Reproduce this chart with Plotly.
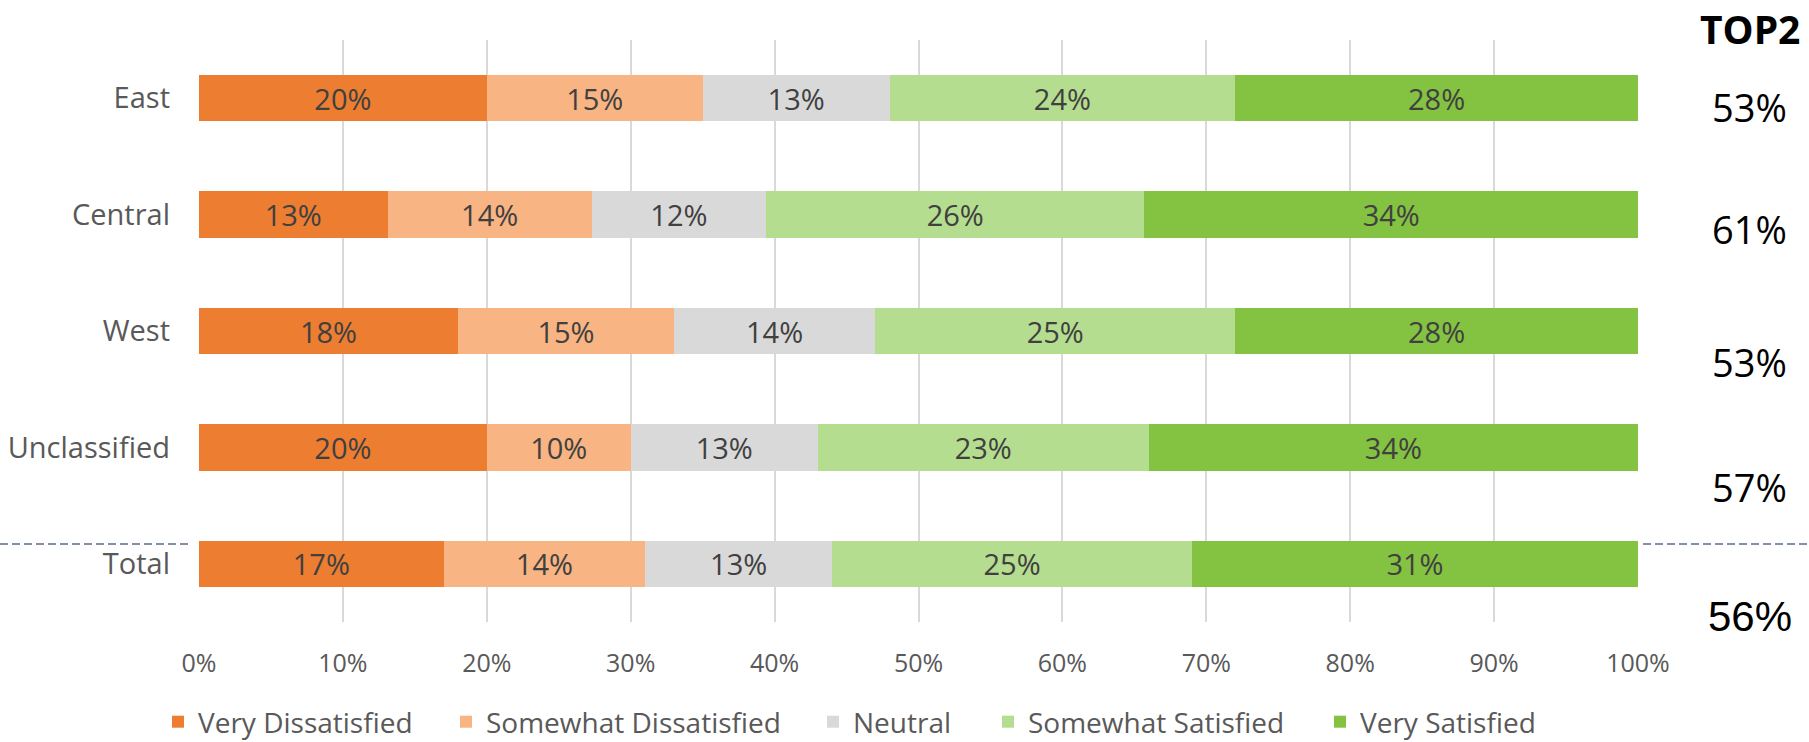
import plotly.graph_objects as go

# Regions (top to bottom) and the five satisfaction levels, as shares of respondents
regions = ["East", "Central", "West", "Unclassified", "Total"]
levels = ["Very Dissatisfied", "Somewhat Dissatisfied", "Neutral",
          "Somewhat Satisfied", "Very Satisfied"]

very_dissatisfied = [0.20, 0.131, 0.18, 0.20, 0.17]
somewhat_dissatisfied = [0.15, 0.142, 0.15, 0.10, 0.14]
neutral = [0.13, 0.121, 0.14, 0.13, 0.13]
somewhat_satisfied = [0.24, 0.263, 0.25, 0.23, 0.25]
very_satisfied = [0.28, 0.343, 0.28, 0.34, 0.31]

# Top-two-box share shown to the right of each bar
top2 = ["53%", "61%", "53%", "57%", "56%"]
top2_title = "TOP2"

series = [very_dissatisfied, somewhat_dissatisfied, neutral,
          somewhat_satisfied, very_satisfied]
colors = ["#ED7D31", "#F8B482", "#D9D9D9", "#B5DD8F", "#84C241"]

FONT = "Open Sans, Noto Sans, sans-serif"

W, H = 1809, 742
L, R, T, B = 199, 171, 40, 120
plot_w = W - L - R
plot_h = H - T - B


def px_to_paper_x(px):
    return (px - L) / plot_w


def px_to_paper_y(py):
    return (H - B - py) / plot_h


# One legend per series so each key sits at its own spot along the bottom
legend_ids = ["legend", "legend2", "legend3", "legend4", "legend5"]
legend_px = [158, 446, 813, 988, 1320]

fig = go.Figure()
for name, vals, col, lid in zip(levels, series, colors, legend_ids):
    fig.add_trace(go.Bar(
        y=regions, x=vals, name=name, orientation="h",
        marker=dict(color=col, line=dict(width=0)),
        texttemplate="%{x:.0%}", textposition="inside",
        insidetextanchor="middle", constraintext="none",
        textfont=dict(family=FONT, size=29, color="#404040"),
        hoverinfo="skip", legend=lid,
    ))

legend_layout = {}
for lid, lx in zip(legend_ids, legend_px):
    legend_layout[lid] = dict(
        orientation="h", x=px_to_paper_x(lx), xanchor="left",
        y=px_to_paper_y(722), yanchor="middle",
        font=dict(family=FONT, size=28, color="#595959"),
        itemwidth=30, bgcolor="rgba(0,0,0,0)",
    )

fig.update_layout(
    width=W, height=H,
    margin=dict(l=L, r=R, t=T, b=B, pad=0, autoexpand=False),
    barmode="stack", bargap=0.6,
    paper_bgcolor="white", plot_bgcolor="white",
    font=dict(family=FONT, color="#595959"),
    showlegend=True,
    xaxis=dict(range=[0, 1], dtick=0.1, tickformat=".0%",
               showgrid=True, gridcolor="#D9D9D9", gridwidth=1.5,
               zeroline=False, showline=False, ticks="",
               automargin=False, ticklabelstandoff=24,
               tickfont=dict(family=FONT, size=25, color="#595959")),
    yaxis=dict(categoryorder="array", categoryarray=regions,
               range=[4.5, -0.5], showgrid=False, zeroline=False,
               showline=False, ticks="", automargin=False,
               ticklabelstandoff=28,
               tickfont=dict(family=FONT, size=29, color="#595959")),
    **legend_layout,
)

# Dashed separator above the Total row, outside the plotting area on both sides
sep_y = px_to_paper_y(544)
for x0, x1 in [(0, 191), (1643, W)]:
    fig.add_shape(type="line", xref="paper", yref="paper",
                  x0=px_to_paper_x(x0), x1=px_to_paper_x(x1),
                  y0=sep_y, y1=sep_y,
                  line=dict(color="#8090A8", width=2, dash="8px,4px"))

# TOP2 column
col_x = px_to_paper_x(1750)
fig.add_annotation(x=col_x, y=px_to_paper_y(28), xref="paper", yref="paper",
                   xanchor="center", yanchor="middle",
                   text=f"<b>{top2_title}</b>", showarrow=False,
                   font=dict(family=FONT, size=39, color="#000000"))
label_rows = [107, 229, 362, 487]
for val, py in zip(top2[:4], label_rows):
    fig.add_annotation(x=col_x, y=px_to_paper_y(py), xref="paper", yref="paper",
                       xanchor="center", yanchor="middle",
                       text=val, showarrow=False,
                       font=dict(family=FONT, size=38, color="#000000"))
fig.add_annotation(x=col_x, y=px_to_paper_y(616), xref="paper", yref="paper",
                   xanchor="center", yanchor="middle",
                   text=top2[4], showarrow=False,
                   font=dict(family="Liberation Sans, Arial, sans-serif",
                             size=42, color="#000000"))

fig.write_html("out.html")
